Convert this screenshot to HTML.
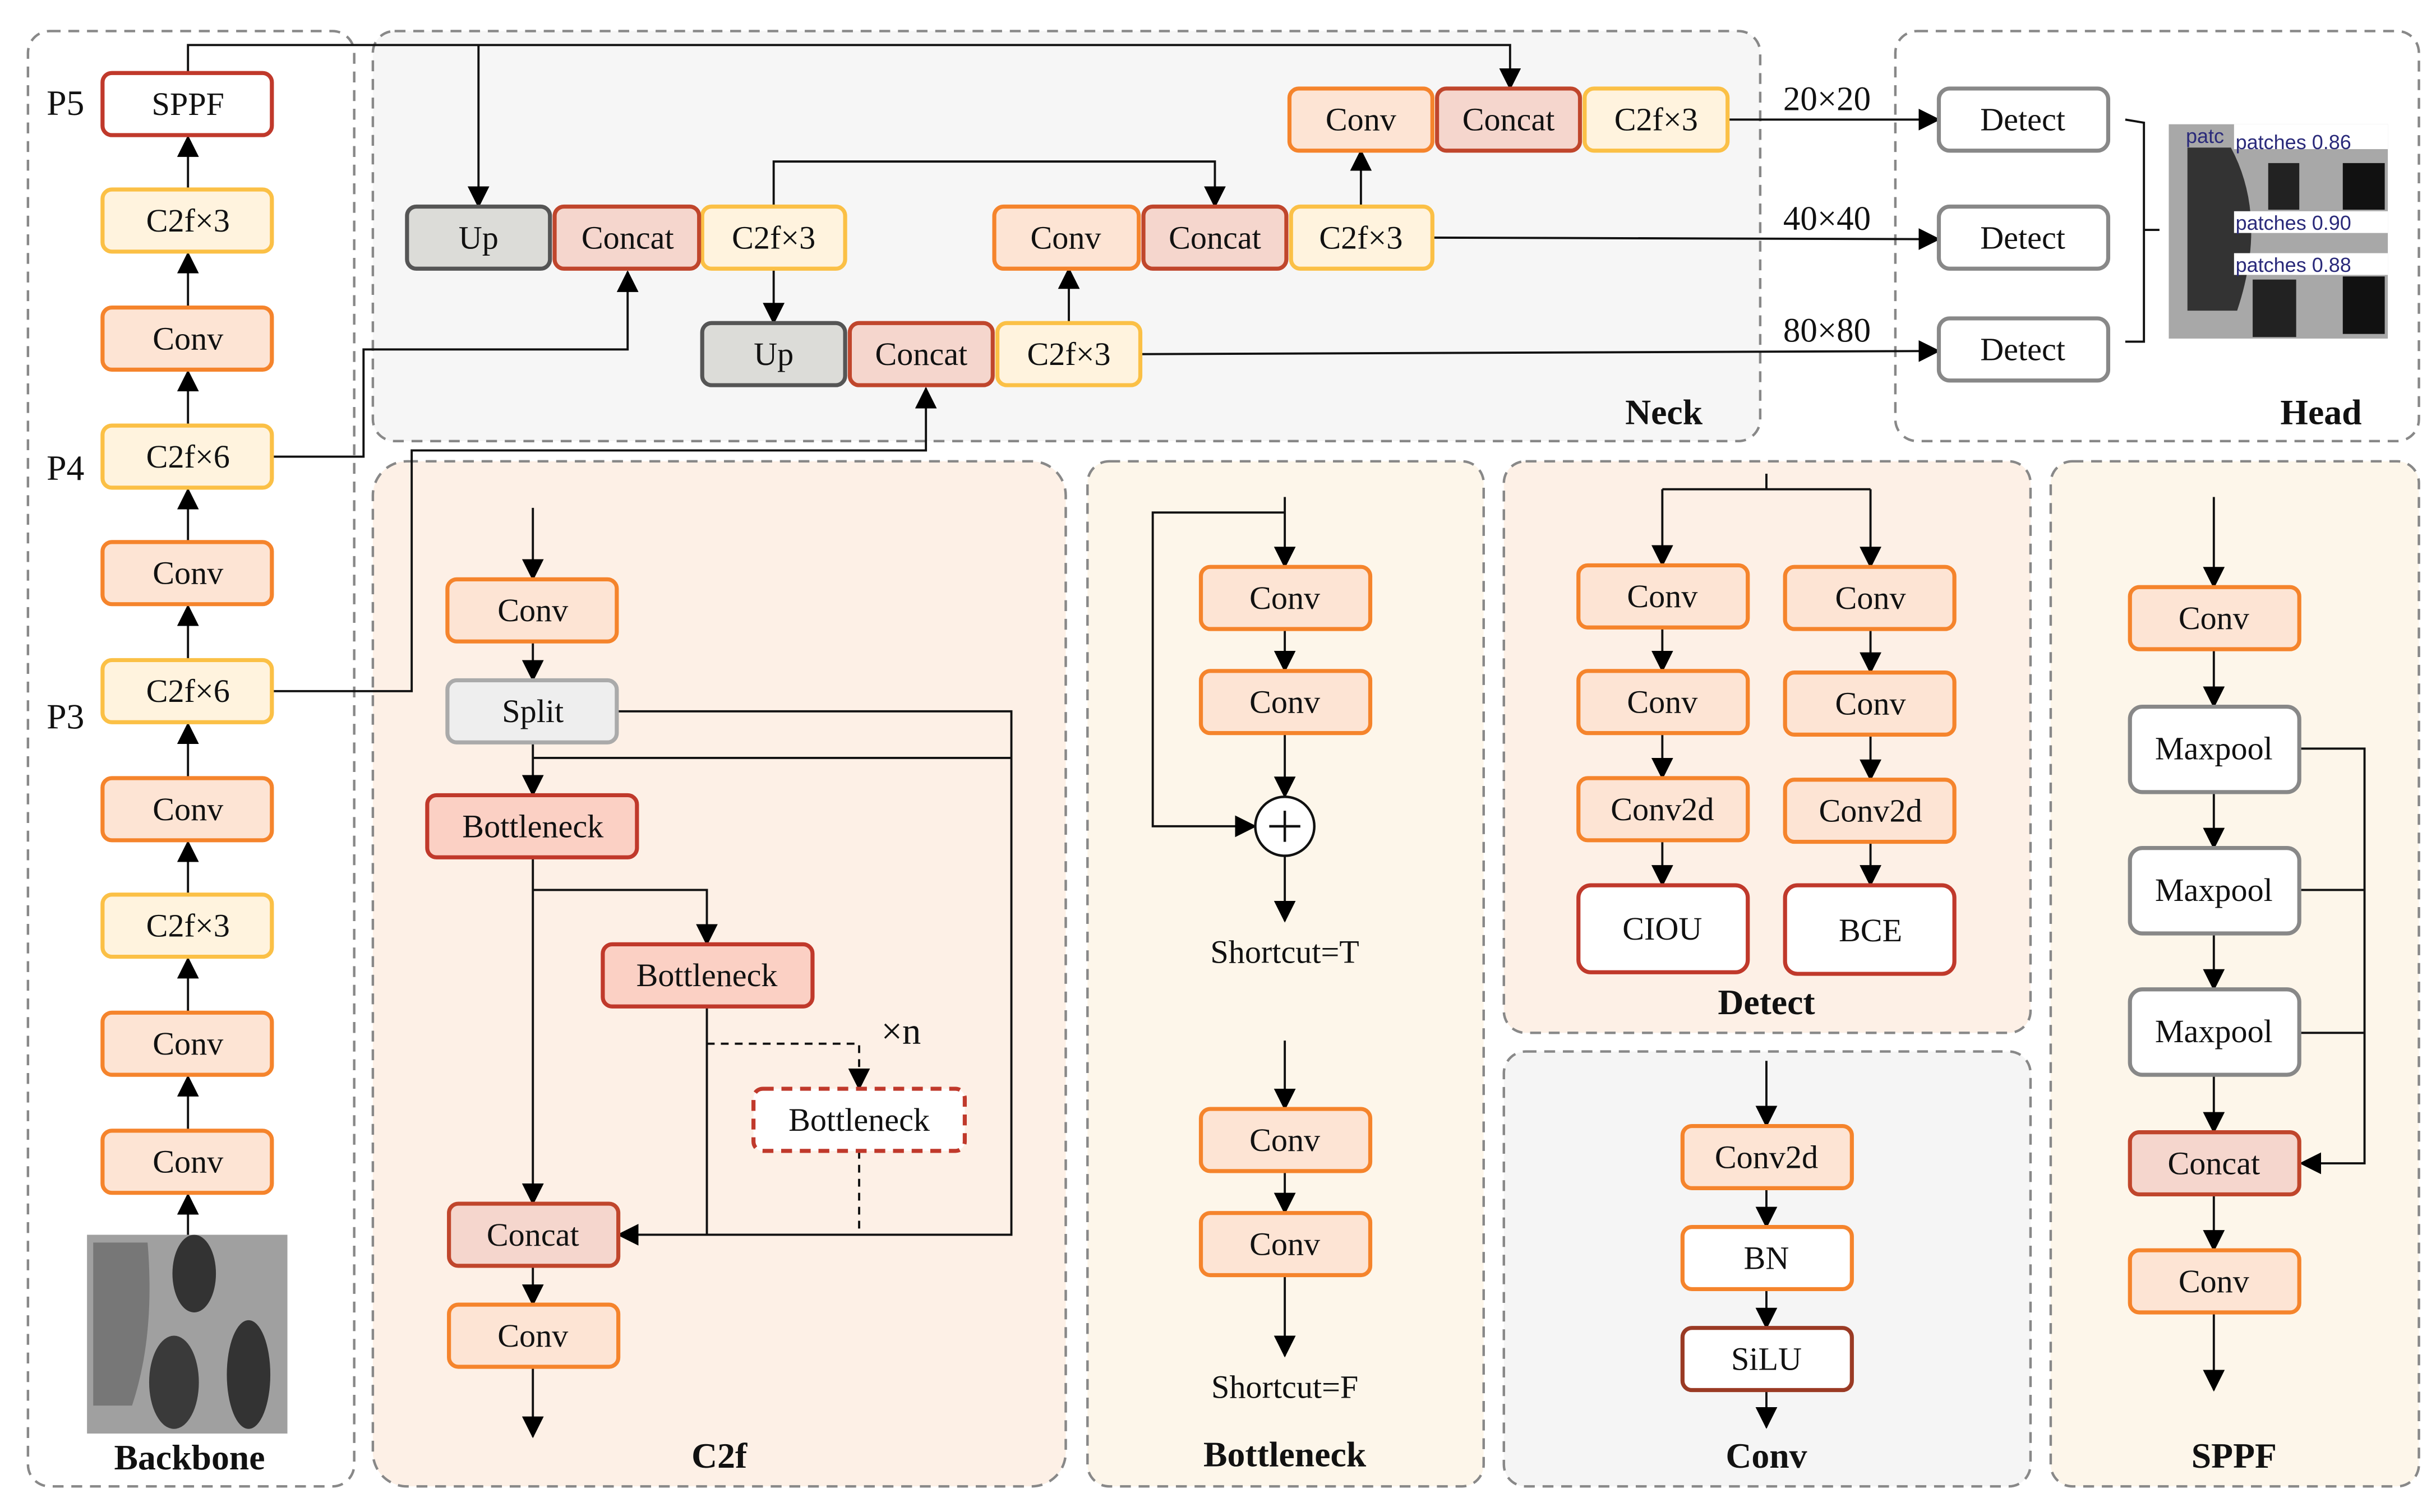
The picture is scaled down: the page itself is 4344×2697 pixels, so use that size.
<!DOCTYPE html>
<html><head><meta charset="utf-8">
<style>
html,body{margin:0;padding:0;background:#fff;}
svg{display:block;}
svg text{font-family:"Liberation Serif","Times New Roman",serif !important;fill:#111;}
svg text.lbl{font-family:"Liberation Sans",sans-serif !important;fill:#2a2a7a;}
</style></head>
<body>
<svg xmlns="http://www.w3.org/2000/svg" width="4344" height="2697" viewBox="0 0 1568 973.5" font-family="Liberation Serif, serif">
<defs>
<marker id="a" markerUnits="userSpaceOnUse" markerWidth="14" markerHeight="14" refX="13" refY="7" orient="auto">
<path d="M0,0 L14,7 L0,14 z" fill="#000"/></marker>
</defs>
<rect width="1568" height="973.5" fill="#fff"/>
<g stroke="#888" stroke-width="1.6" stroke-dasharray="7,5">
<rect x="18" y="20" width="210" height="937" rx="14" fill="#fff"/>
<rect x="240" y="20" width="893" height="264" rx="14" fill="#f6f6f6"/>
<rect x="1220" y="20" width="337" height="264" rx="14" fill="#fff"/>
<rect x="240" y="297" width="446" height="660" rx="22" fill="#fdf0e6"/>
<rect x="700" y="297" width="255" height="660" rx="14" fill="#fdf6ea"/>
<rect x="968" y="297" width="339" height="368" rx="14" fill="#fdf0e6"/>
<rect x="968" y="677" width="339" height="280" rx="14" fill="#f5f5f5"/>
<rect x="1320" y="297" width="237" height="660" rx="14" fill="#fdf6ea"/>
</g>
<g stroke="#111" stroke-width="1.4" fill="none">
<line x1="121" y1="122" x2="121" y2="88" marker-end="url(#a)"/>
<line x1="121" y1="198" x2="121" y2="163" marker-end="url(#a)"/>
<line x1="121" y1="274" x2="121" y2="239" marker-end="url(#a)"/>
<line x1="121" y1="349" x2="121" y2="315" marker-end="url(#a)"/>
<line x1="121" y1="425" x2="121" y2="390" marker-end="url(#a)"/>
<line x1="121" y1="501" x2="121" y2="466" marker-end="url(#a)"/>
<line x1="121" y1="576" x2="121" y2="542" marker-end="url(#a)"/>
<line x1="121" y1="652" x2="121" y2="617" marker-end="url(#a)"/>
<line x1="121" y1="728" x2="121" y2="693" marker-end="url(#a)"/>
<line x1="121" y1="800" x2="121" y2="769" marker-end="url(#a)"/>
<polyline points="121,47 121,29 972,29 972,57" marker-end="url(#a)"/>
<line x1="308" y1="29" x2="308" y2="133" marker-end="url(#a)"/>
<polyline points="175,294 234,294 234,225 404,225 404,175" marker-end="url(#a)"/>
<polyline points="175,445 265,445 265,290 596,290 596,250" marker-end="url(#a)"/>
<line x1="498" y1="173" x2="498" y2="208" marker-end="url(#a)"/>
<polyline points="498,133 498,104 782,104 782,133" marker-end="url(#a)"/>
<line x1="688" y1="208" x2="688" y2="173" marker-end="url(#a)"/>
<line x1="876" y1="133" x2="876" y2="97" marker-end="url(#a)"/>
<line x1="1112" y1="77" x2="1248" y2="77" marker-end="url(#a)"/>
<line x1="922" y1="153" x2="1248" y2="154" marker-end="url(#a)"/>
<line x1="734" y1="228" x2="1248" y2="226" marker-end="url(#a)"/>
<polyline points="1368,77 1380,79 1380,220 1368,220"/>
<line x1="1380" y1="148" x2="1390" y2="148"/>
<line x1="343" y1="327" x2="343" y2="373" marker-end="url(#a)"/>
<line x1="343" y1="413" x2="343" y2="438" marker-end="url(#a)"/>
<line x1="343" y1="478" x2="343" y2="512" marker-end="url(#a)"/>
<polyline points="397,458 651,458 651,795 398,795" marker-end="url(#a)"/>
<line x1="343" y1="488" x2="651" y2="488"/>
<line x1="343" y1="552" x2="343" y2="775" marker-end="url(#a)"/>
<polyline points="343,573 455,573 455,608" marker-end="url(#a)"/>
<polyline points="455,648 455,795"/>
<polyline points="455,672 553,672 553,701" stroke-dasharray="5,4" marker-end="url(#a)"/>
<line x1="553" y1="741" x2="553" y2="795" stroke-dasharray="5,4"/>
<line x1="343" y1="815" x2="343" y2="840" marker-end="url(#a)"/>
<line x1="343" y1="880" x2="343" y2="925" marker-end="url(#a)"/>
<line x1="827" y1="320" x2="827" y2="365" marker-end="url(#a)"/>
<polyline points="827,330 742,330 742,532 808,532" marker-end="url(#a)"/>
<line x1="827" y1="405" x2="827" y2="432" marker-end="url(#a)"/>
<line x1="827" y1="472" x2="827" y2="513" marker-end="url(#a)"/>
<line x1="827" y1="551" x2="827" y2="593" marker-end="url(#a)"/>
<line x1="827" y1="670" x2="827" y2="714" marker-end="url(#a)"/>
<line x1="827" y1="754" x2="827" y2="781" marker-end="url(#a)"/>
<line x1="827" y1="821" x2="827" y2="873" marker-end="url(#a)"/>
<line x1="1137" y1="305" x2="1137" y2="315"/>
<line x1="1070" y1="315" x2="1204" y2="315"/>
<line x1="1070" y1="315" x2="1070" y2="364" marker-end="url(#a)"/>
<line x1="1204" y1="315" x2="1204" y2="365" marker-end="url(#a)"/>
<line x1="1070" y1="404" x2="1070" y2="432" marker-end="url(#a)"/>
<line x1="1070" y1="472" x2="1070" y2="501" marker-end="url(#a)"/>
<line x1="1070" y1="541" x2="1070" y2="570" marker-end="url(#a)"/>
<line x1="1204" y1="405" x2="1204" y2="433" marker-end="url(#a)"/>
<line x1="1204" y1="473" x2="1204" y2="502" marker-end="url(#a)"/>
<line x1="1204" y1="542" x2="1204" y2="570" marker-end="url(#a)"/>
<line x1="1137" y1="683" x2="1137" y2="725" marker-end="url(#a)"/>
<line x1="1137" y1="765" x2="1137" y2="790" marker-end="url(#a)"/>
<line x1="1137" y1="830" x2="1137" y2="855" marker-end="url(#a)"/>
<line x1="1137" y1="895" x2="1137" y2="919" marker-end="url(#a)"/>
<line x1="1425" y1="320" x2="1425" y2="378" marker-end="url(#a)"/>
<line x1="1425" y1="418" x2="1425" y2="455" marker-end="url(#a)"/>
<line x1="1425" y1="510" x2="1425" y2="546" marker-end="url(#a)"/>
<line x1="1425" y1="601" x2="1425" y2="637" marker-end="url(#a)"/>
<line x1="1425" y1="692" x2="1425" y2="729" marker-end="url(#a)"/>
<line x1="1425" y1="769" x2="1425" y2="805" marker-end="url(#a)"/>
<line x1="1425" y1="845" x2="1425" y2="895" marker-end="url(#a)"/>
<polyline points="1480,482 1522,482 1522,749 1481,749" marker-end="url(#a)"/>
<line x1="1480" y1="573" x2="1522" y2="573"/>
<line x1="1480" y1="665" x2="1522" y2="665"/>
</g>
<circle cx="827" cy="532" r="19" fill="#fff" stroke="#111" stroke-width="1.6"/>
<line x1="817" y1="532" x2="837" y2="532" stroke="#111" stroke-width="1.6"/>
<line x1="827" y1="522" x2="827" y2="542" stroke="#111" stroke-width="1.6"/>
<g stroke-width="2.6">
<g fill="#fde4d4" stroke="#f5842c">
<rect x="66" y="198" width="109" height="40" rx="6"/>
<rect x="66" y="349" width="109" height="40" rx="6"/>
<rect x="66" y="501" width="109" height="40" rx="6"/>
<rect x="66" y="652" width="109" height="40" rx="6"/>
<rect x="66" y="728" width="109" height="40" rx="6"/>
<rect x="640" y="133" width="93" height="40" rx="6"/>
<rect x="830" y="57" width="92" height="40" rx="6"/>
<rect x="288" y="373" width="109" height="40" rx="6"/>
<rect x="289" y="840" width="109" height="40" rx="6"/>
<rect x="773" y="365" width="109" height="40" rx="6"/>
<rect x="773" y="432" width="109" height="40" rx="6"/>
<rect x="773" y="714" width="109" height="40" rx="6"/>
<rect x="773" y="781" width="109" height="40" rx="6"/>
<rect x="1016" y="364" width="109" height="40" rx="6"/>
<rect x="1016" y="432" width="109" height="40" rx="6"/>
<rect x="1016" y="501" width="109" height="40" rx="6"/>
<rect x="1149" y="365" width="109" height="40" rx="6"/>
<rect x="1149" y="433" width="109" height="40" rx="6"/>
<rect x="1149" y="502" width="109" height="40" rx="6"/>
<rect x="1083" y="725" width="109" height="40" rx="6"/>
<rect x="1371" y="378" width="109" height="40" rx="6"/>
<rect x="1371" y="805" width="109" height="40" rx="6"/>
</g>
<g fill="#fff3de" stroke="#fbc046">
<rect x="66" y="122" width="109" height="40" rx="6"/>
<rect x="66" y="274" width="109" height="40" rx="6"/>
<rect x="66" y="425" width="109" height="40" rx="6"/>
<rect x="66" y="576" width="109" height="40" rx="6"/>
<rect x="452" y="133" width="92" height="40" rx="6"/>
<rect x="642" y="208" width="92" height="40" rx="6"/>
<rect x="831" y="133" width="91" height="40" rx="6"/>
<rect x="1020" y="57" width="92" height="40" rx="6"/>
</g>
<g fill="#f5d6cd" stroke="#c0462c">
<rect x="357" y="133" width="93" height="40" rx="6"/>
<rect x="547" y="208" width="92" height="40" rx="6"/>
<rect x="736" y="133" width="92" height="40" rx="6"/>
<rect x="925" y="57" width="92" height="40" rx="6"/>
<rect x="289" y="775" width="109" height="40" rx="6"/>
<rect x="1371" y="729" width="109" height="40" rx="6"/>
</g>
<g fill="#dcdcd8" stroke="#555">
<rect x="262" y="133" width="92" height="40" rx="6"/>
<rect x="452" y="208" width="92" height="40" rx="6"/>
</g>
<g fill="#fbd0c4" stroke="#c0392b">
<rect x="275" y="512" width="135" height="40" rx="6"/>
<rect x="388" y="608" width="135" height="40" rx="6"/>
</g>
<rect x="485" y="701" width="136" height="40" rx="6" fill="#fff" stroke="#c0392b" stroke-dasharray="7,5"/>
<g fill="#fff" stroke="#c0392b">
<rect x="66" y="47" width="109" height="40" rx="6"/>
<rect x="1016" y="570" width="109" height="56" rx="8"/>
<rect x="1149" y="570" width="109" height="57" rx="8"/>
</g>
<rect x="1083" y="790" width="109" height="40" rx="6" fill="#fff" stroke="#f5842c"/>
<rect x="1083" y="855" width="109" height="40" rx="6" fill="#fff" stroke="#9a3a24"/>
<rect x="288" y="438" width="109" height="40" rx="6" fill="#eeeeee" stroke="#aaa"/>
<g fill="#fff" stroke="#888">
<rect x="1248" y="57" width="109" height="40" rx="7"/>
<rect x="1248" y="133" width="109" height="40" rx="7"/>
<rect x="1248" y="205" width="109" height="40" rx="7"/>
<rect x="1371" y="455" width="109" height="55" rx="8"/>
<rect x="1371" y="546" width="109" height="55" rx="8"/>
<rect x="1371" y="637" width="109" height="55" rx="8"/>
</g>
</g>
<rect x="56" y="795" width="129" height="128" fill="#a0a0a0"/>
<path d="M60 800 L95 800 Q100 860 85 905 L60 905Z" fill="#777"/>
<ellipse cx="125" cy="820" rx="14" ry="25" fill="#333"/>
<ellipse cx="160" cy="885" rx="14" ry="35" fill="#333"/>
<ellipse cx="112" cy="890" rx="16" ry="30" fill="#3a3a3a"/>
<rect x="1396" y="80" width="141" height="138" fill="#a8a8a8"/>
<path d="M1408 95 L1436 95 Q1460 140 1440 200 L1408 200Z" fill="#333"/>
<rect x="1460" y="105" width="20" height="30" fill="#222"/>
<rect x="1508" y="105" width="27" height="30" fill="#111"/>
<rect x="1450" y="180" width="28" height="37" fill="#222"/>
<rect x="1508" y="178" width="27" height="37" fill="#111"/>
<rect x="1438" y="80" width="99" height="16" fill="#fff"/>
<rect x="1438" y="136" width="99" height="14" fill="#fff"/>
<rect x="1438" y="163" width="99" height="14" fill="#fff"/>
<text class="lbl" x="1407" y="92" font-size="13">patc</text>
<text class="lbl" x="1439" y="96" font-size="13">patches 0.86</text>
<text class="lbl" x="1439" y="148" font-size="13">patches 0.90</text>
<text class="lbl" x="1439" y="175" font-size="13">patches 0.88</text>
<g font-size="21" text-anchor="middle">
<text x="121" y="74">SPPF</text>
<text x="121" y="149">C2f×3</text>
<text x="121" y="225">Conv</text>
<text x="121" y="301">C2f×6</text>
<text x="121" y="376">Conv</text>
<text x="121" y="452">C2f×6</text>
<text x="121" y="528">Conv</text>
<text x="121" y="603">C2f×3</text>
<text x="121" y="679">Conv</text>
<text x="121" y="755">Conv</text>
<text x="308" y="160">Up</text>
<text x="404" y="160">Concat</text>
<text x="498" y="160">C2f×3</text>
<text x="498" y="235">Up</text>
<text x="593" y="235">Concat</text>
<text x="688" y="235">C2f×3</text>
<text x="686" y="160">Conv</text>
<text x="782" y="160">Concat</text>
<text x="876" y="160">C2f×3</text>
<text x="876" y="84">Conv</text>
<text x="971" y="84">Concat</text>
<text x="1066" y="84">C2f×3</text>
<text x="1302" y="84">Detect</text>
<text x="1302" y="160">Detect</text>
<text x="1302" y="232">Detect</text>
<text x="1176" y="71" font-size="22">20×20</text>
<text x="1176" y="148" font-size="22">40×40</text>
<text x="1176" y="220" font-size="22">80×80</text>
<text x="343" y="400">Conv</text>
<text x="343" y="465">Split</text>
<text x="343" y="539">Bottleneck</text>
<text x="455" y="635">Bottleneck</text>
<text x="553" y="728">Bottleneck</text>
<text x="343" y="802">Concat</text>
<text x="343" y="867">Conv</text>
<text x="580" y="672" font-size="24">×n</text>
<text x="827" y="392">Conv</text>
<text x="827" y="459">Conv</text>
<text x="827" y="741">Conv</text>
<text x="827" y="808">Conv</text>
<text x="827" y="620">Shortcut=T</text>
<text x="827" y="900">Shortcut=F</text>
<text x="1070" y="391">Conv</text>
<text x="1070" y="459">Conv</text>
<text x="1070" y="528">Conv2d</text>
<text x="1070" y="605">CIOU</text>
<text x="1204" y="392">Conv</text>
<text x="1204" y="460">Conv</text>
<text x="1204" y="529">Conv2d</text>
<text x="1204" y="606">BCE</text>
<text x="1137" y="752">Conv2d</text>
<text x="1137" y="817">BN</text>
<text x="1137" y="882">SiLU</text>
<text x="1425" y="405">Conv</text>
<text x="1425" y="489">Maxpool</text>
<text x="1425" y="580">Maxpool</text>
<text x="1425" y="671">Maxpool</text>
<text x="1425" y="756">Concat</text>
<text x="1425" y="832">Conv</text>
</g>
<g font-size="23">
<text x="30" y="74">P5</text>
<text x="30" y="309">P4</text>
<text x="30" y="469">P3</text>
</g>
<g font-size="23" font-weight="bold" text-anchor="middle">
<text x="122" y="946">Backbone</text>
<text x="1071" y="273">Neck</text>
<text x="1494" y="273">Head</text>
<text x="463" y="945">C2f</text>
<text x="827" y="944">Bottleneck</text>
<text x="1137" y="653">Detect</text>
<text x="1137" y="945">Conv</text>
<text x="1438" y="945">SPPF</text>
</g>
</svg>
</body></html>
